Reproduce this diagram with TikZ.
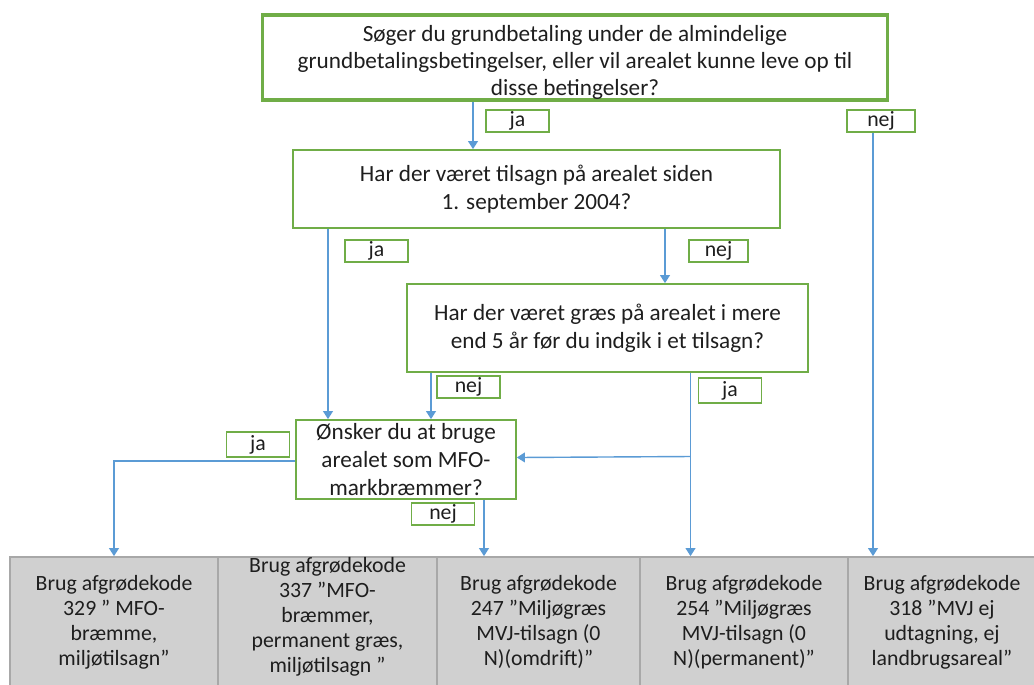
\documentclass[tikz,border=0pt]{standalone}
\usepackage{fontspec}
\setmainfont{Carlito}
\usetikzlibrary{arrows.meta,calc}
\definecolor{boxgreen}{HTML}{70AD47}
\definecolor{flowblue}{HTML}{5B9BD5}
\definecolor{resfill}{HTML}{D0D0D0}
\definecolor{resdraw}{HTML}{A8A8A8}
\definecolor{txt}{HTML}{1E1E1E}
\newcommand{\pix}{0.02cm}
\newcommand{\topfont}{\fontsize{13.2}{15.5}\selectfont}
\newcommand{\midfont}{\fontsize{13.2}{16.2}\selectfont}
\newcommand{\resfont}{\fontsize{12.4}{14.2}\selectfont}
\tikzset{
    question/.style={draw=boxgreen, line width=1pt, align=center, inner sep=0pt, text=txt, font=\midfont},
    answer/.style={draw=boxgreen, line width=1pt, inner sep=0pt, text=txt, font=\resfont,
        minimum width=63*\pix, minimum height=22*\pix},
    result/.style={draw=resdraw, fill=resfill, line width=1pt, align=center, inner sep=0pt,
        text=txt, font=\resfont, minimum height=130*\pix},
    flow/.style={draw=flowblue, line width=0.8pt, -{Triangle[width=5.5pt,length=4.5pt]}},
}
\begin{document}
\begin{tikzpicture}[x=0.02cm, y=-0.02cm]
		\useasboundingbox (0,0) rectangle (1034,684);
		\node[question, line width=2pt, font=\topfont, minimum width=625*\pix, minimum height=85*\pix] (grund) at (575,57.5)
			{\rule{0pt}{15pt}Søger du grundbetaling under de almindelige\\grundbetalingsbetingelser, eller vil arealet kunne leve op til\\disse betingelser?};
		\node[question, minimum width=487*\pix, minimum height=78*\pix] (tilsagn) at (536.5,189)
			{Har der været tilsagn på arealet siden\\1. september 2004?};
		\node[question, minimum width=401*\pix, minimum height=88*\pix] (graes) at (607.5,328)
			{Har der været græs på arealet i mere\\end 5 år før du indgik i et tilsagn?};
		\node[question, minimum width=220*\pix, minimum height=79*\pix] (mfo) at (406,459.5)
			{Ønsker du at bruge\\arealet som MFO-\\markbræmmer?};

		\node[answer] (ja1) at (517.5,121) {ja};
		\node[answer, minimum width=68*\pix] (nej1) at (881,121) {nej};
		\node[answer] (ja2) at (376.5,251) {ja};
		\node[answer, minimum width=59*\pix] (nej2) at (718.5,251) {nej};
		\node[answer] (nej3) at (468.5,387) {nej};
		\node[answer, minimum height=25*\pix] (ja3) at (730,390.5) {ja};
		\node[answer, minimum height=25*\pix] (ja4) at (258,444.5) {ja};
		\node[answer] (nej4) at (443,514) {nej};

		\node[result, minimum width=208*\pix] (k329) at (114,622)
			{Brug afgrødekode\\329 ” MFO-\\bræmme,\\miljøtilsagn”};
		\node[result, minimum width=219*\pix] (k337) at (327.5,622)
			{Brug afgrødekode\\337 ”MFO-\\bræmmer,\\permanent græs,\\miljøtilsagn ”\rule[-8pt]{0pt}{8pt}};
		\node[result, minimum width=203*\pix] (k247) at (538.5,622)
			{Brug afgrødekode\\247 ”Miljøgræs\\MVJ-tilsagn (0\\N)(omdrift)”};
		\node[result, minimum width=208*\pix] (k254) at (744,622)
			{Brug afgrødekode\\254 ”Miljøgræs\\MVJ-tilsagn (0\\N)(permanent)”};
		\node[result, minimum width=188*\pix] (k318) at (942,622)
			{Brug afgrødekode\\318 ”MVJ ej\\udtagning, ej\\landbrugsareal”};

		\draw[flow] ($(grund.south)+(-102,0)$) coordinate (g1) -- (g1 |- tilsagn.north);
		\draw[flow] ($(nej1.south)+(-8,0)$) coordinate (g2) -- (g2 |- k318.north);
		\draw[flow] ($(tilsagn.south)+(-208.5,0)$) coordinate (t1) -- (t1 |- mfo.north);
		\draw[flow] ($(tilsagn.south)+(128.5,0)$) coordinate (t2) -- (t2 |- graes.north);
		\draw[flow] ($(graes.south)+(-176.5,0)$) coordinate (s1) -- (s1 |- mfo.north);
		\draw[flow] ($(graes.south)+(83,0)$) coordinate (s2) -- (s2 |- k254.north);
		\draw[flow] ($(s2 |- mfo.east)+(0,-3)$) -- ($(mfo.east)+(0,-2)$);
		\draw[flow] ($(mfo.west)+(0,1.5)$) -| (k329.north);
		\draw[flow] ($(mfo.south)+(78,0)$) coordinate (m1) -- (m1 |- k247.north);
	\end{tikzpicture}
\end{document}
